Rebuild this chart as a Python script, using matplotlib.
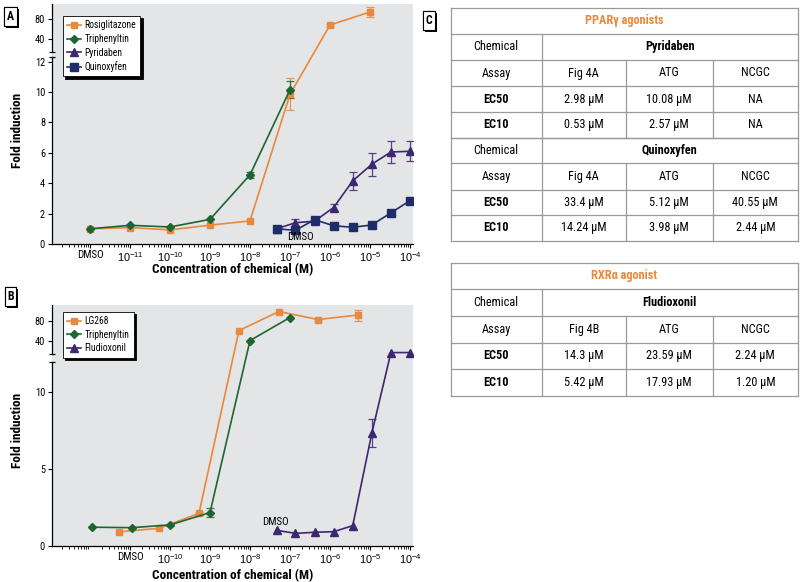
import numpy as np
import matplotlib
matplotlib.use('Agg')
import matplotlib.pyplot as plt
import matplotlib.patheffects as pe
from matplotlib.transforms import blended_transform_factory
from matplotlib.lines import Line2D

FONT = ['Liberation Sans Narrow', 'Roboto Condensed', 'Liberation Sans', 'DejaVu Sans']
plt.rcParams['font.family'] = FONT
plt.rcParams['mathtext.fontset'] = 'custom'
plt.rcParams['mathtext.rm'] = 'Liberation Sans'
plt.rcParams['mathtext.it'] = 'Liberation Sans:italic'
plt.rcParams['mathtext.bf'] = 'Liberation Sans:bold'

# ---------------- data: panel A ----------------
rosi_x = [1e-12, 1e-11, 1e-10, 1e-9, 1e-8, 1e-7, 1e-6, 1e-5]
rosi_y = [1.0, 1.08, 0.93, 1.24, 1.52, 9.85, 68, 94]
rosi_e = [0, 0, 0, 0, 0, 1.05, 3, 10]
tpha_x = [1e-12, 1e-11, 1e-10, 1e-9, 1e-8, 1e-7]
tpha_y = [1.0, 1.23, 1.12, 1.62, 4.55, 10.15]
tpha_e = [0, 0, 0, 0, 0.2, 0.55]
conc_a = [4.6e-8, 1.37e-7, 4.1e-7, 1.23e-6, 3.7e-6, 1.11e-5, 3.33e-5, 1e-4]
pyr_y = [1.0, 1.4, 1.5, 2.4, 4.15, 5.25, 6.05, 6.1]
pyr_e = [0, 0.25, 0.1, 0.25, 0.6, 0.75, 0.7, 0.65]
quin_y = [1.0, 0.9, 1.6, 1.2, 1.1, 1.25, 2.05, 2.85]
quin_e = [0, 0, 0, 0, 0, 0, 0, 0]

# ---------------- data: panel B ----------------
lg_x = [5.4e-12, 5.4e-11, 5.3e-10, 5.3e-9, 5.3e-8, 5e-7, 5e-6]
lg_y = [0.9, 1.13, 2.1, 60, 98, 82, 91]
lg_e = [0, 0, 0.1, 0, 0, 3, 11]
tphb_x = [1.1e-12, 1.1e-11, 1e-10, 1e-9, 1e-8, 1e-7]
tphb_y = [1.2, 1.17, 1.35, 2.15, 40, 86]
tphb_e = [0, 0, 0.08, 0.3, 0, 0]
conc_b = [4.6e-8, 1.37e-7, 4.1e-7, 1.23e-6, 3.7e-6, 1.11e-5, 3.33e-5, 1e-4]
flu_y = [1.0, 0.8, 0.87, 0.91, 1.3, 7.3, 16, 16]
flu_e = [0, 0, 0, 0, 0, 0.9, 0, 0]

xticks_a = [1e-12, 1e-11, 1e-10, 1e-9, 1e-8, 1e-7, 1e-6, 1e-5, 1e-4]
xlabels_a = ['DMSO', '$10^{-11}$', '$10^{-10}$', '$10^{-9}$', '$10^{-8}$',
             '$10^{-7}$', '$10^{-6}$', '$10^{-5}$', '$10^{-4}$']
xticks_b = [1e-11, 1e-10, 1e-9, 1e-8, 1e-7, 1e-6, 1e-5, 1e-4]
xlabels_b = ['DMSO', '$10^{-10}$', '$10^{-9}$', '$10^{-8}$',
             '$10^{-7}$', '$10^{-6}$', '$10^{-5}$', '$10^{-4}$']
yticks_a = [0, 2, 4, 6, 8, 10, 12, 40, 80]
yticks_b = [0, 5, 10, 40, 80]

# ---------------- data: tables ----------------
ppar_title = 'PPARγ agonists'
rxr_title = 'RXRα agonist'
assay_cols_a = ['Fig 4A', 'ATG', 'NCGC']
assay_cols_b = ['Fig 4B', 'ATG', 'NCGC']
pyr_ec50 = ['2.98 μM', '10.08 μM', 'NA']
pyr_ec10 = ['0.53 μM', '2.57 μM', 'NA']
quin_ec50 = ['33.4 μM', '5.12 μM', '40.55 μM']
quin_ec10 = ['14.24 μM', '3.98 μM', '2.44 μM']
flu_ec50 = ['14.3 μM', '23.59 μM', '2.24 μM']
flu_ec10 = ['5.42 μM', '17.93 μM', '1.20 μM']

# ---------------- styles ----------------
ORANGE = '#e8893c'
GREEN = '#1d6631'
PURPLE = '#3d2770'
NAVY = '#1e2d68'
BG = '#e4e5e6'
W, H = 800, 582

fig = plt.figure(figsize=(8.0, 5.82), dpi=100)


def fx(x):
    return x / W


def fy(y):
    return 1 - y / H


def make_scale(L, G, U, k):
    def fwd(y):
        y = np.asarray(y, dtype=float)
        return np.where(y <= L, y,
                        np.where(y < U, L + (y - L) / (U - L) * G,
                                 L + G + (y - U) * k))

    def inv(d):
        d = np.asarray(d, dtype=float)
        return np.where(d <= L, d,
                        np.where(d < L + G, L + (d - L) / G * (U - L),
                                 U + (d - L - G) / k))
    return fwd, inv


def series(ax, x, y, e, color, marker, ms, label):
    x = np.asarray(x); y = np.asarray(y); e = np.asarray(e, dtype=float)
    m = e > 0
    if m.any():
        ax.errorbar(x[m], y[m], yerr=e[m], fmt='none', ecolor=color,
                    elinewidth=0.9, capsize=2.8, capthick=0.9, zorder=3, alpha=0.85)
    ln, = ax.plot(x, y, color=color, marker=marker, ms=ms, lw=1.2,
                  mec=color, mfc=color, label=label, zorder=4)
    return ln


def setup_axes(rect, L, G, U, k, top, yticks, xticks, xlabels, xlab_y, ylab_y):
    ax = fig.add_axes(rect)
    ax.set_facecolor(BG)
    ax.set_xscale('log')
    ax.set_xlim(10 ** -12.95, 10 ** -3.925)
    fwd, inv = make_scale(L, G, U, k)
    ax.set_yscale('function', functions=(fwd, inv))
    ax.set_ylim(0, top)
    ax.set_yticks(yticks)
    ax.set_yticklabels([str(t) for t in yticks])
    ax.yaxis.set_minor_locator(matplotlib.ticker.NullLocator())
    ax.set_xticks(xticks)
    ax.set_xticklabels(xlabels)
    ax.xaxis.set_minor_locator(matplotlib.ticker.LogLocator(base=10, subs=np.arange(2, 10), numticks=20))
    ax.xaxis.set_minor_formatter(matplotlib.ticker.NullFormatter())
    for s in ['top', 'right', 'left']:
        ax.spines[s].set_visible(False)
    ax.spines['bottom'].set_linewidth(0.9)
    ax.tick_params(axis='both', which='major', length=3, width=0.8, labelsize=7.5, pad=2)
    ax.tick_params(axis='x', which='major', labelsize=7.8, pad=1.5)
    ax.tick_params(axis='x', which='minor', length=2, width=0.6)
    tr = blended_transform_factory(ax.transAxes, ax.transData)
    ax.plot([0, 0], [0, L], transform=tr, color='black', lw=0.9, clip_on=False, zorder=6)
    ax.plot([0, 0], [U, top], transform=tr, color='black', lw=0.9, clip_on=False, zorder=6)
    ax.plot([0, 0], [L, U], transform=tr, color='black', lw=0, marker='_', ms=4,
            mew=0.9, clip_on=False, zorder=6)
    ax.set_xlabel('Concentration of chemical (M)', fontsize=9.5, fontweight='bold')
    ax.set_ylabel('Fold induction', fontsize=9.5, fontweight='bold')
    ax.xaxis.set_label_coords(0.5, xlab_y)
    ax.yaxis.set_label_coords(-0.078, ylab_y)
    return ax


def legend(ax, handles, top):
    leg = ax.legend(handles=handles, loc='upper left', bbox_to_anchor=(0.03, top),
                    fontsize=6.9, frameon=True, fancybox=False, edgecolor='black',
                    framealpha=1, handlelength=1.4, handletextpad=0.4, labelspacing=0.38,
                    borderpad=0.45, borderaxespad=0,
                    shadow={'color': 'black', 'alpha': 1, 'ox': 1.6, 'oy': -1.6})
    leg.get_frame().set_linewidth(0.6)
    return leg


# ---------------- panel A ----------------
axA = setup_axes([fx(52), fy(244), fx(361), 240 / H], 12.3, 0.33, 14, 0.0329, 110,
                 yticks_a, xticks_a, xlabels_a, -0.08, 0.475)
hA = [series(axA, rosi_x, rosi_y, rosi_e, ORANGE, 's', 4.8, 'Rosiglitazone'),
      series(axA, tpha_x, tpha_y, tpha_e, GREEN, 'D', 4.2, 'Triphenyltin'),
      series(axA, conc_a, pyr_y, pyr_e, PURPLE, '^', 5.5, 'Pyridaben'),
      series(axA, conc_a, quin_y, quin_e, NAVY, 's', 5.2, 'Quinoxyfen')]
axA.text(conc_a[0] * 4.0, 0.45, 'DMSO', fontsize=7.8, ha='center', va='center', zorder=5)
legend(axA, hA, 0.95)

# ---------------- panel B ----------------
axB = setup_axes([fx(52), fy(545.7), fx(361), 240.7 / H], 11.95, 0.5, 13.4, 0.0325, 111,
                 yticks_b, xticks_b, xlabels_b, -0.098, 0.48)
hB = [series(axB, lg_x, lg_y, lg_e, ORANGE, 's', 4.8, 'LG268'),
      series(axB, tphb_x, tphb_y, tphb_e, GREEN, 'D', 4.2, 'Triphenyltin'),
      series(axB, conc_b, flu_y, flu_e, PURPLE, '^', 5.5, 'Fludioxonil')]
axB.text(conc_b[0] * 0.95, 1.55, 'DMSO', fontsize=7.8, ha='center', va='center', zorder=5)
legend(axB, hB, 0.972)


# ---------------- panel letters ----------------
def panel_letter(x, y, s):
    t = fig.text(fx(x), fy(y), s, fontsize=8.5, fontweight='bold', ha='center', va='center',
                 bbox=dict(boxstyle='square,pad=0.22', fc='white', ec='black', lw=0.8))
    t.get_bbox_patch().set_path_effects(
        [pe.withSimplePatchShadow(offset=(1.5, -1.5), shadow_rgbFace='black', alpha=1), pe.Normal()])


panel_letter(10.5, 16.5, 'A')
panel_letter(10.5, 296.5, 'B')
panel_letter(429, 20.5, 'C')

# ---------------- tables ----------------
cols = [450.7, 541.7, 625.7, 712.7, 798]
LINE = '#9a9a9a'


def hline(y, x0=cols[0], x1=cols[-1]):
    fig.add_artist(Line2D([fx(x0), fx(x1)], [fy(y), fy(y)], color=LINE, lw=0.9,
                          transform=fig.transFigure))


def vline(x, y0, y1):
    fig.add_artist(Line2D([fx(x), fx(x)], [fy(y0), fy(y1)], color=LINE, lw=0.9,
                          transform=fig.transFigure))


def txt(x, y, s, bold=False, color='black', size=8.8):
    fig.text(fx(x), fy(y), s, ha='center', va='center', fontsize=size,
             fontweight='bold' if bold else 'normal', color=color)


def block(rows, chem, assays, ec50, ec10):
    for r in rows:
        hline(r)
    vline(cols[1], rows[0], rows[-1])
    for c in cols[2:4]:
        vline(c, rows[1], rows[-1])
    mid = lambda i: (rows[i] + rows[i + 1]) / 2
    ccen = [(cols[i] + cols[i + 1]) / 2 for i in range(4)]
    txt(ccen[0], mid(0), 'Chemical')
    txt((cols[1] + cols[-1]) / 2, mid(0), chem, bold=True)
    txt(ccen[0], mid(1), 'Assay')
    txt(ccen[0], mid(2), 'EC50', bold=True)
    txt(ccen[0], mid(3), 'EC10', bold=True)
    for j in range(3):
        txt(ccen[j + 1], mid(1), assays[j])
        txt(ccen[j + 1], mid(2), ec50[j])
        txt(ccen[j + 1], mid(3), ec10[j])


# table 1
t1 = [8, 33.7, 60, 86, 112, 137.7, 163, 189.7, 215, 240.5]
hline(t1[0])
vline(cols[0], t1[0], t1[-1])
vline(cols[-1], t1[0], t1[-1])
txt((cols[0] + cols[-1]) / 2, (t1[0] + t1[1]) / 2, ppar_title, bold=True, color=ORANGE)
block(t1[1:6], 'Pyridaben', assay_cols_a, pyr_ec50, pyr_ec10)
block(t1[5:10], 'Quinoxyfen', assay_cols_a, quin_ec50, quin_ec10)

# table 2
t2 = [262.7, 289.3, 316, 342.7, 369, 395.7]
hline(t2[0])
vline(cols[0], t2[0], t2[-1])
vline(cols[-1], t2[0], t2[-1])
txt((cols[0] + cols[-1]) / 2, (t2[0] + t2[1]) / 2, rxr_title, bold=True, color=ORANGE)
block(t2[1:6], 'Fludioxonil', assay_cols_b, flu_ec50, flu_ec10)

fig.savefig('out.png', dpi=100)
